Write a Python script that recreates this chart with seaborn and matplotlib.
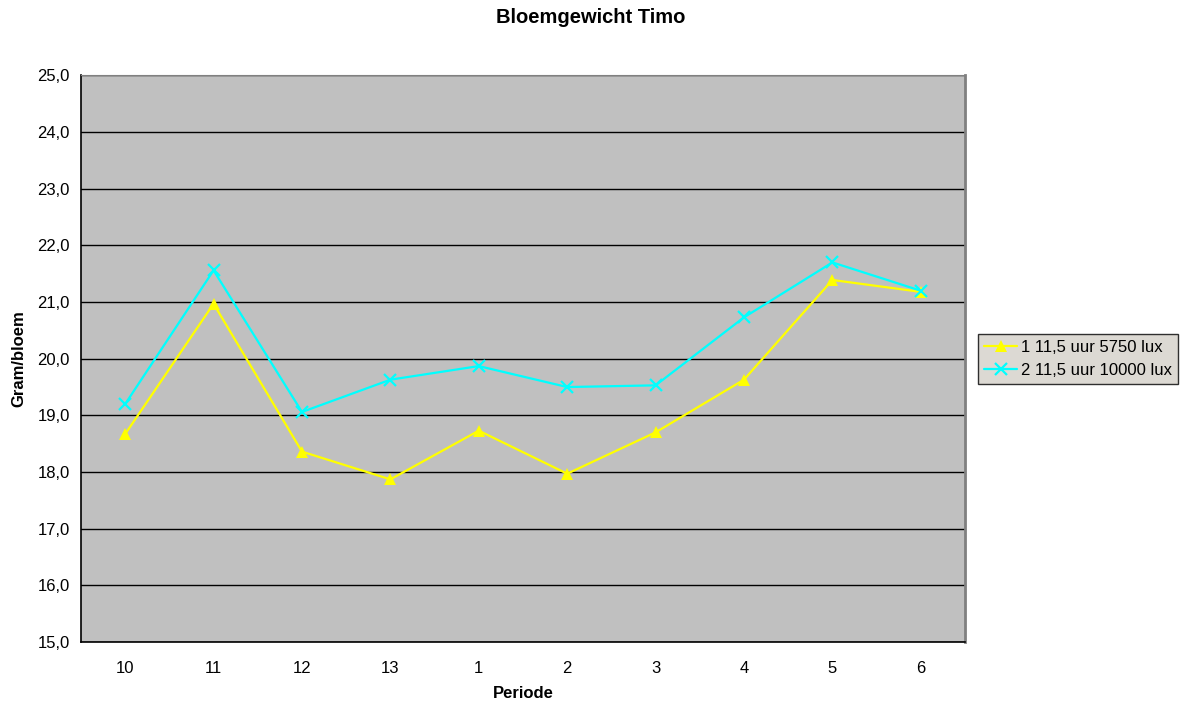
import matplotlib
matplotlib.use("Agg")
import matplotlib.pyplot as plt
import seaborn as sns
import pandas as pd
import numpy as np
from matplotlib.ticker import FixedLocator, FuncFormatter

periodes = ["10", "11", "12", "13", "1", "2", "3", "4", "5", "6"]
serie_5750 = [18.67, 20.97, 18.36, 17.87, 18.73, 17.97, 18.70, 19.63, 21.39, 21.18]
serie_10000 = [19.20, 21.56, 19.06, 19.63, 19.87, 19.50, 19.53, 20.73, 21.70, 21.20]
naam_5750 = "1 11,5 uur 5750 lux"
naam_10000 = "2 11,5 uur 10000 lux"
y_ticks = [15, 16, 17, 18, 19, 20, 21, 22, 23, 24, 25]
kleuren = {naam_5750: "#FFFF00", naam_10000: "#00FFFF"}

df = pd.DataFrame({
    "Periode": periodes * 2,
    "Gewicht": serie_5750 + serie_10000,
    "Behandeling": [naam_5750] * len(periodes) + [naam_10000] * len(periodes),
})

sns.set_style("white")
plt.rcParams["font.family"] = ["Liberation Sans", "DejaVu Sans"]
plt.rcParams["text.color"] = "black"
plt.rcParams["axes.labelcolor"] = "black"
plt.rcParams["xtick.color"] = "black"
plt.rcParams["ytick.color"] = "black"

fig = plt.figure(figsize=(11.82, 7.02), dpi=100)
ax = fig.add_axes([0.0685, 0.0855, 0.7479, 0.807])
ax.set_facecolor("#C0C0C0")

sns.lineplot(
    data=df, x="Periode", y="Gewicht", hue="Behandeling", style="Behandeling",
    palette=kleuren,
    markers={naam_5750: "^", naam_10000: "X"},
    dashes=False, linewidth=1.6, markersize=7, ax=ax, sort=False,
)


def style_marker(line):
    kleur = line.get_color()
    if line.get_marker() in ("X", "x"):
        line.set_marker("x")
        line.set_markeredgewidth(1.6)
        line.set_markeredgecolor(kleur)
        line.set_markersize(8)
    elif line.get_marker() == "^":
        line.set_markeredgewidth(0)
        line.set_markerfacecolor(kleur)
        line.set_markersize(9)


for line in ax.get_lines():
    style_marker(line)

ax.set_xlim(-0.5, len(periodes) - 0.5)
ax.set_ylim(y_ticks[0], y_ticks[-1])
ax.yaxis.set_major_locator(FixedLocator(y_ticks))
ax.yaxis.set_major_formatter(FuncFormatter(lambda v, p: f"{v:.1f}".replace(".", ",")))
ax.grid(axis="y", color="black", linewidth=1.0)
ax.grid(axis="x", visible=False)
ax.set_axisbelow(True)

ax.set_xticks(range(len(periodes)))
ax.set_xticklabels(periodes)
ax.set_xticks(np.arange(-0.5, len(periodes), 1.0), minor=True)
ax.tick_params(axis="x", which="major", length=0, pad=14, labelsize=12)
ax.tick_params(axis="x", which="minor", length=5, width=1, color="black", direction="out")
ax.tick_params(axis="y", which="major", length=5, width=1, color="black", direction="out", labelsize=12, pad=3)

for side in ["left", "bottom"]:
    ax.spines[side].set_color("black")
    ax.spines[side].set_linewidth(1.2)
ax.spines["top"].set_color("#808080")
ax.spines["right"].set_color("#808080")
ax.spines["right"].set_linewidth(2)

ax.set_xlabel("Periode", fontsize=12, fontweight="bold", labelpad=7)
ax.set_ylabel("Gram/bloem", fontsize=12, fontweight="bold", labelpad=8)
fig.suptitle("Bloemgewicht Timo", fontsize=14.5, fontweight="bold", y=0.988)

handles, labels = ax.get_legend_handles_labels()
if ax.legend_:
    ax.legend_.remove()
for h in handles:
    style_marker(h)
leg = fig.legend(
    handles, labels, loc="center left", bbox_to_anchor=(0.8275, 0.4886),
    frameon=True, fancybox=False, fontsize=12, borderpad=0.35,
    handlelength=2.0, handletextpad=0.25, labelspacing=0.45, borderaxespad=0,
)
leg.get_frame().set_facecolor("#D4D0C8")
leg.get_frame().set_edgecolor("black")
leg.get_frame().set_linewidth(1)

fig.savefig("out.png", dpi=100)
